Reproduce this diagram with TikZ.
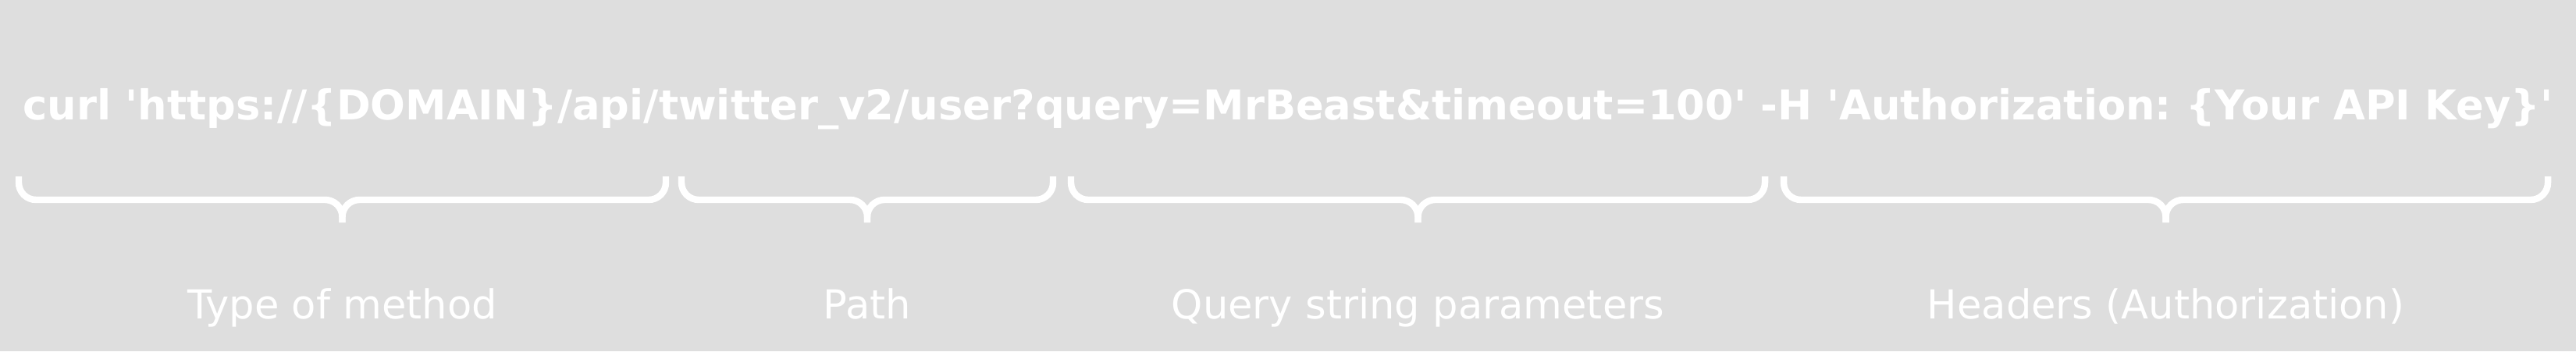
\documentclass[tikz,border=0pt]{standalone}
\usepackage{fontspec}
\setmainfont{DejaVu Sans}
\newfontfamily\cmdfont{DejaVu Sans Bold}
\definecolor{bggray}{HTML}{DEDEDE}
\newcommand{\q}{\textquotesingle}
\frenchspacing

\tikzset{
  cmdtext/.style={text=white, font=\cmdfont\fontsize{15.0}{18}\selectfont, anchor=base, inner sep=0pt},
  partlabel/.style={text=white, font=\fontsize{14.55}{17}\selectfont, anchor=base, inner sep=0pt},
  brace/.style={draw=white, line width=2.4pt, rounded corners=2.2mm},
}

\begin{document}
\begin{tikzpicture}
\fill[color=bggray] (0,0) rectangle (33,4.5);
\useasboundingbox (0,0) rectangle (33,4.5);

\node[cmdtext] (cmd) at (16.5,2.97) {curl \q https://\{DOMAIN\}/api/twitter\_v2/user?query=MrBeast\&timeout=100\q{} -H \q Authorization: \{Your API Key\}\q};

% braces under the command
\draw[brace] (0.24,2.24) -- (0.24,1.94) -- (4.385,1.94) -- (4.385,1.65);
\draw[brace] (8.53,2.24) -- (8.53,1.94) -- (4.385,1.94) -- (4.385,1.65);

\draw[brace] (8.73,2.24) -- (8.73,1.94) -- (11.11,1.94) -- (11.11,1.65);
\draw[brace] (13.49,2.24) -- (13.49,1.94) -- (11.11,1.94) -- (11.11,1.65);

\draw[brace] (13.72,2.24) -- (13.72,1.94) -- (18.165,1.94) -- (18.165,1.65);
\draw[brace] (22.61,2.24) -- (22.61,1.94) -- (18.165,1.94) -- (18.165,1.65);

\draw[brace] (22.85,2.24) -- (22.85,1.94) -- (27.745,1.94) -- (27.745,1.65);
\draw[brace] (32.64,2.24) -- (32.64,1.94) -- (27.745,1.94) -- (27.745,1.65);

\node[partlabel] (method) at (4.385,0.42) {Type of method};
\node[partlabel] (path) at (11.11,0.42) {Path};
\node[partlabel] (query) at (18.165,0.42) {Query string parameters};
\node[partlabel] (headers) at (27.745,0.42) {Headers (Authorization)};
\end{tikzpicture}
\end{document}
